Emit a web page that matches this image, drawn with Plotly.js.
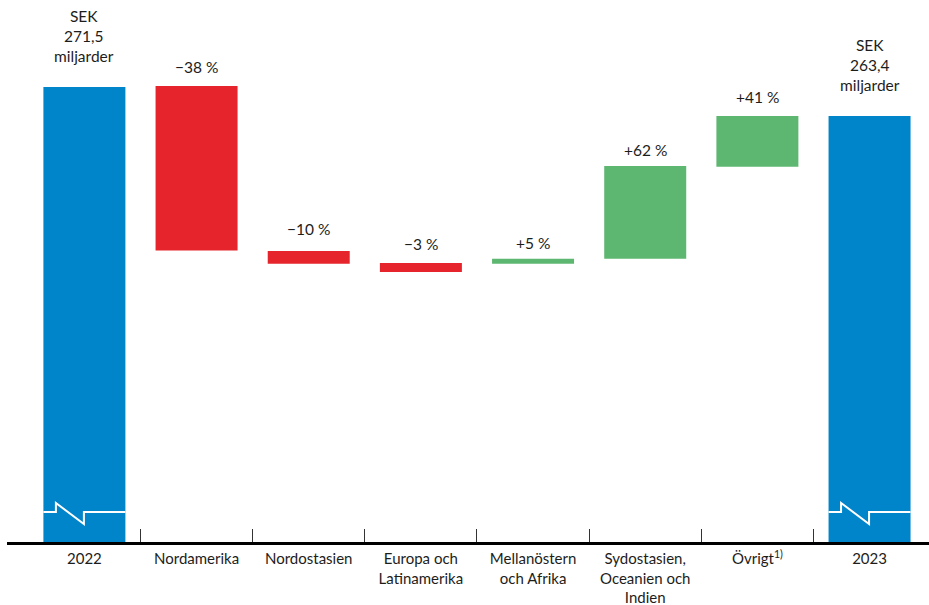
<!DOCTYPE html>
<html>
<head>
<meta charset="utf-8">
<script src="https://cdn.plot.ly/plotly-3.0.1.min.js"></script>
<style>html,body{margin:0;padding:0;background:#fff;}#chart{width:929px;height:605px;}</style>
</head>
<body>
<div id="chart"></div>
<script>
// ---- data (SEK billion) ----
const categories = ['2022', 'Nordamerika', 'Nordostasien', 'Europa och<br>Latinamerika',
  'Mellanöstern<br>och Afrika', 'Sydostasien,<br>Oceanien och<br>Indien', 'Övrigt<sup>1)</sup>', '2023'];
const barTop  = [271.5, 271.8, 225.7, 222.3, 223.5, 249.4, 263.4, 263.4];
const barBase = [0,     225.8, 222.1, 219.8, 222.1, 223.5, 249.2, 0];
const barKind = ['total', 'decrease', 'decrease', 'decrease', 'increase', 'increase', 'increase', 'total'];
const barLabels = ['SEK<br>271,5<br>miljarder', '\u221238 %', '\u221210 %', '\u22123 %', '+5 %', '+62 %', '+41 %', 'SEK<br>263,4<br>miljarder'];

// ---- styling ----
const colors = {total: '#0084CA', decrease: '#E5252B', increase: '#5EB771'};
const FONT = 'Lato, "Noto Sans", sans-serif';
const TXT = '#1d1d1b';
const W = 929, H = 605;
const margin = {l: 7, r: 0, t: 0, b: 63};
const xRange = [-0.69, 7.53];
const yRange = [144.4, 295.8];
const barW = 0.731;
const plotW = W - margin.l - margin.r;
const plotH = H - margin.t - margin.b;
const pxPerCat = plotW / (xRange[1] - xRange[0]);
const labelShift = [20, 8, 11, 8, 5, 5, 8, 20];

const xs = categories.map((c, i) => i);

const trace = {
  type: 'bar',
  x: xs,
  y: barTop.map((t, i) => t - barBase[i]),
  base: barBase,
  width: barW,
  marker: {color: barKind.map(k => colors[k]), line: {width: 0}},
  hoverinfo: 'skip'
};

const annotations = xs.map((x, i) => ({
  x: x, y: barTop[i], xref: 'x', yref: 'y',
  text: barLabels[i], showarrow: false,
  yanchor: 'bottom', xanchor: 'center',
  yshift: labelShift[i],
  font: {family: FONT, size: 15.5, color: TXT}
}));

// axis-break marks on the total bars (offsets in px from the bar's left edge)
const breakPts = [[0, 512], [12.5, 512], [12.5, 503], [40.5, 524], [40.5, 512], [82, 512]];
const shapes = [];
xs.forEach((x, i) => {
  if (barKind[i] !== 'total') return;
  const left = x - barW / 2;
  const d = breakPts.map((p, k) => {
    const px = left + p[0] / pxPerCat;
    const py = 1 - (p[1] - margin.t) / plotH;
    return (k === 0 ? 'M' : 'L') + px + ',' + py;
  }).join(' ');
  shapes.push({type: 'path', xref: 'x', yref: 'paper', path: d,
    line: {color: '#ffffff', width: 2}});
});

const layout = {
  width: W, height: H, margin: margin,
  paper_bgcolor: '#fff', plot_bgcolor: '#fff',
  showlegend: false,
  font: {family: FONT, size: 15, color: TXT},
  xaxis: {
    range: xRange, showgrid: false, zeroline: false,
    tickmode: 'array', tickvals: xs, ticktext: categories,
    ticks: '', ticklabelstandoff: 1,
    tickfont: {family: FONT, size: 15, color: TXT},
    showline: true, linewidth: 3, linecolor: '#000',
    minor: {tickmode: 'array', tickvals: xs.slice(0, -1).map(v => v + 0.5),
      ticks: 'inside', ticklen: 13, tickwidth: 1, tickcolor: '#333', showgrid: false},
    fixedrange: true
  },
  yaxis: {range: yRange, visible: false, fixedrange: true},
  annotations: annotations,
  shapes: shapes
};

Plotly.newPlot('chart', [trace], layout, {displayModeBar: false, staticPlot: true});
</script>
</body>
</html>
